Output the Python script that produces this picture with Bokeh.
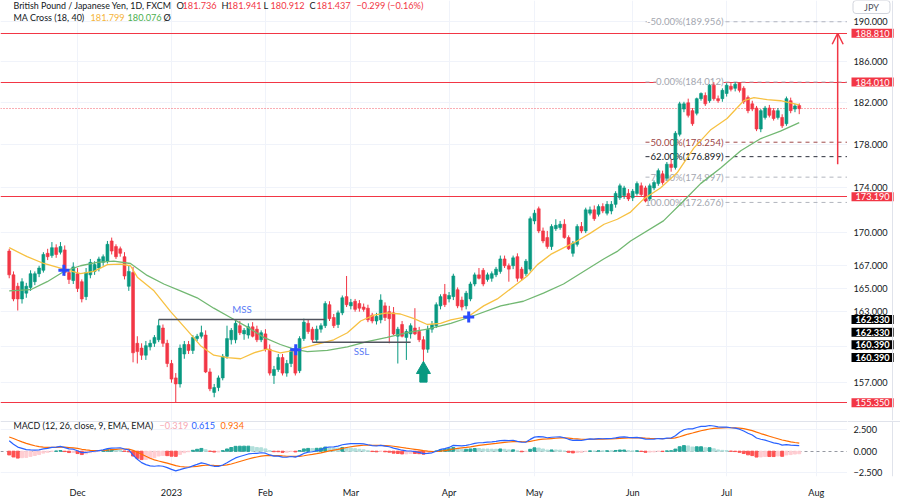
from bokeh.plotting import figure
from bokeh.models import (Range1d, FixedTicker, Label, Arrow, OpenHead, Grid, ColumnDataSource)
from bokeh.layouts import column, row
from bokeh.embed import file_html
from bokeh.resources import INLINE
from bokeh.core.properties import value

# ------------------------------------------------------------------ data
month_ticks = [16, 38, 60, 80, 103, 123, 146, 168, 189]
month_labels = ["Dec", "2023", "Feb", "Mar", "Apr", "May", "Jun", "Jul", "Aug"]

price_ticks = [157, 160, 163, 165, 167, 170, 174, 178, 182, 186, 190]
macd_ticks = [-2.5, 0, 2.5]
macd_tick_labels = ["\u22122.500", "0.000", "2.500"]

# daily bars (open, high, low, close)
bars_nov = [
    (168.3, 168.5, 165.9, 166.2), (166.2, 166.5, 163.9, 164.1), (165.2, 165.5, 163.1, 164.1),
    (164.1, 165.9, 163.7, 165.6), (164.6, 165.5, 164.2, 165.2), (165.1, 166.6, 164.8, 166.3),
    (165.6, 166.5, 165.3, 166.3), (166.3, 167.0, 166.0, 166.8), (166.6, 168.2, 166.4, 168.0),
    (168.1, 168.5, 167.5, 167.8), (167.9, 169.1, 167.7, 168.6), (168.6, 168.9, 167.7, 168.0),
    (168.2, 169.1, 168.0, 168.7), (168.4, 168.8, 166.1, 166.4), (166.4, 166.7, 165.4, 165.8),
    (165.7, 167.3, 165.4, 166.9),
]
bars_dec = [
    (166.3, 166.8, 164.7, 165.0), (165.6, 165.8, 163.8, 164.1), (164.3, 166.8, 164.0, 166.4),
    (166.2, 167.6, 165.9, 167.3), (166.5, 167.4, 166.2, 167.1), (166.8, 167.8, 166.5, 167.6),
    (167.3, 168.0, 167.0, 167.8), (167.4, 169.2, 167.2, 168.9), (169.2, 169.5, 168.0, 168.3),
    (168.7, 168.9, 167.6, 167.8), (168.5, 168.7, 167.8, 168.1), (167.8, 168.2, 165.8, 166.1),
    (165.2, 167.0, 164.8, 166.5), (166.4, 166.9, 158.7, 159.5), (160.3, 160.9, 158.6, 159.6),
    (159.9, 160.3, 158.9, 159.3), (159.3, 160.5, 158.9, 160.1), (160.0, 160.6, 159.7, 160.3),
    (160.3, 161.0, 160.0, 160.8), (160.6, 162.33, 160.4, 161.8), (161.6, 161.9, 160.0, 160.3),
    (160.3, 160.6, 158.3, 158.6),
]
bars_jan = [
    (158.6, 158.9, 157.0, 157.3), (157.4, 157.8, 155.35, 156.9), (156.9, 160.2, 156.6, 159.9),
    (159.4, 160.5, 159.0, 160.2), (160.2, 160.5, 159.4, 159.7), (159.7, 161.0, 159.4, 160.8),
    (160.7, 161.1, 160.5, 160.9), (160.9, 161.8, 160.7, 161.2), (161.0, 161.4, 157.8, 157.9),
    (157.9, 158.2, 156.3, 156.5), (156.2, 156.9, 155.8, 156.6), (156.6, 157.6, 156.3, 157.4),
    (157.4, 159.4, 157.2, 159.2), (159.2, 161.8, 159.0, 160.7), (160.6, 161.6, 160.2, 161.4),
    (160.6, 162.2, 160.3, 162.0), (161.8, 162.2, 161.0, 161.2), (161.1, 161.6, 160.6, 161.4),
    (161.0, 162.0, 160.7, 161.7), (161.7, 162.1, 160.8, 160.9), (161.5, 161.8, 160.4, 160.6),
    (160.6, 161.4, 160.4, 161.2),
]
bars_feb = [
    (161.1, 161.5, 159.6, 159.8), (159.8, 160.2, 157.6, 157.8), (157.6, 158.4, 156.9, 158.1),
    (158.1, 159.4, 157.9, 159.1), (159.1, 159.4, 157.6, 157.8), (157.8, 158.9, 157.5, 158.6),
    (158.6, 159.9, 158.3, 159.7), (159.7, 160.1, 157.6, 157.8), (158.0, 160.9, 157.8, 160.7),
    (160.7, 162.4, 160.5, 162.1), (162.0, 162.33, 161.1, 161.3), (161.5, 161.7, 160.39, 160.6),
    (160.6, 161.8, 160.4, 161.5), (161.5, 162.0, 161.2, 161.8), (161.8, 163.9, 161.6, 163.7),
    (163.6, 163.9, 162.2, 162.4), (162.5, 162.8, 161.6, 161.8), (161.9, 163.1, 161.6, 162.9),
    (162.9, 164.4, 162.7, 164.2), (164.3, 166.1, 163.4, 163.6),
]
bars_mar = [
    (163.5, 164.1, 163.2, 163.8), (163.9, 164.1, 163.0, 163.2), (163.7, 164.0, 163.0, 163.3),
    (163.4, 163.7, 163.0, 163.2), (163.3, 163.6, 162.1, 162.3), (162.7, 162.9, 162.0, 162.2),
    (162.2, 162.9, 161.9, 162.6), (162.3, 164.5, 162.0, 164.0), (163.5, 163.8, 162.2, 162.5),
    (163.0, 163.5, 160.3, 162.4), (162.9, 163.4, 161.0, 161.1), (160.9, 161.7, 158.6, 161.5),
    (161.9, 162.2, 160.8, 160.9), (160.8, 161.5, 158.9, 161.3), (161.1, 162.0, 160.7, 161.8),
    (161.6, 163.3, 161.0, 161.1), (161.3, 161.7, 160.4, 160.6), (160.6, 160.9, 158.5, 159.8),
    (159.8, 161.8, 159.5, 161.5), (161.5, 162.2, 161.2, 161.9), (161.8, 163.8, 161.6, 163.6),
    (163.5, 164.5, 163.2, 164.3), (164.5, 165.4, 163.4, 163.6),
]
bars_apr = [
    (164.1, 164.7, 163.8, 164.4), (164.3, 166.3, 164.0, 166.1), (164.9, 165.1, 163.3, 163.5),
    (164.0, 164.3, 163.1, 163.4), (163.5, 164.8, 163.2, 164.6), (164.1, 165.6, 163.9, 165.4),
    (165.4, 166.4, 165.2, 166.2), (166.2, 166.8, 165.8, 165.9), (166.6, 166.8, 165.2, 165.4),
    (165.8, 166.4, 165.6, 166.2), (165.9, 166.5, 165.6, 166.3), (166.2, 166.9, 166.0, 166.7),
    (166.5, 167.9, 166.3, 167.6), (167.6, 167.9, 166.8, 167.0), (167.0, 167.2, 165.6, 166.7),
    (167.0, 167.9, 166.7, 167.7), (167.8, 168.1, 165.6, 165.9), (166.7, 166.9, 165.7, 165.9),
    (166.3, 167.6, 166.1, 167.4), (166.7, 171.4, 166.5, 171.2),
]
bars_may = [
    (171.0, 172.0, 170.7, 171.7), (172.1, 172.3, 169.9, 170.1), (170.1, 170.4, 169.0, 169.2),
    (169.5, 170.1, 168.5, 168.7), (168.7, 170.7, 168.4, 170.5), (170.3, 171.15, 170.1, 170.6),
    (170.4, 171.0, 170.2, 170.7), (170.7, 171.15, 169.4, 169.5), (169.5, 169.7, 168.4, 168.5),
    (168.1, 169.2, 167.8, 169.0), (168.9, 170.7, 168.7, 170.5), (170.5, 170.9, 169.9, 170.1),
    (170.1, 172.2, 169.9, 172.0), (171.7, 172.3, 171.5, 172.0), (172.0, 172.4, 171.0, 171.2),
    (171.6, 172.5, 171.4, 172.3), (172.3, 172.6, 171.7, 171.9), (171.7, 172.8, 171.5, 172.5),
    (171.9, 172.8, 171.6, 172.5), (172.5, 173.7, 172.2, 173.5), (173.1, 174.4, 172.9, 174.2),
    (173.3, 174.2, 173.0, 174.0), (173.5, 173.9, 172.8, 173.0),
]
bars_jun = [
    (173.1, 173.9, 172.8, 173.7), (173.5, 174.6, 173.3, 174.4), (174.2, 174.5, 173.2, 173.4),
    (174.0, 174.2, 172.68, 172.8), (173.0, 174.4, 172.8, 174.2), (174.0, 174.7, 173.8, 174.5),
    (174.4, 175.8, 174.2, 175.6), (175.3, 175.6, 174.3, 174.5), (174.9, 176.4, 174.7, 176.2),
    (176.2, 176.6, 175.5, 175.9), (175.9, 179.3, 175.7, 179.1), (179.0, 182.1, 178.8, 181.9),
    (181.4, 182.1, 181.1, 181.9), (182.0, 182.4, 180.6, 180.8), (181.25, 181.5, 179.8, 180.0),
    (181.0, 182.5, 180.8, 182.4), (182.4, 183.0, 182.2, 182.9), (182.7, 183.0, 181.7, 181.9),
    (182.2, 183.8, 182.0, 183.7), (183.7, 184.0, 182.2, 182.4), (182.4, 182.7, 182.0, 182.2),
    (182.4, 183.4, 182.1, 183.2),
]
bars_jul = [
    (182.9, 183.9, 182.6, 183.7), (183.6, 183.9, 183.1, 183.3), (183.4, 184.0, 183.1, 183.8),
    (183.9, 184.01, 183.0, 183.2), (183.4, 183.6, 181.9, 182.1), (182.5, 182.7, 181.0, 181.25),
    (181.9, 182.2, 181.2, 181.4), (181.5, 181.7, 179.3, 179.5), (179.5, 181.4, 179.2, 181.25),
    (180.6, 181.7, 180.4, 181.5), (181.5, 181.8, 180.6, 180.8), (181.25, 181.5, 180.3, 180.5),
    (180.6, 181.5, 180.4, 181.25), (180.6, 180.9, 179.6, 179.8), (180.0, 182.6, 179.8, 182.4),
    (182.2, 182.5, 181.0, 181.25), (181.4, 181.9, 181.1, 181.7), (181.736, 181.941, 180.912, 181.437),
]

# moving averages as drawn (bar index, value)
ma18_bar = [0, 4.2, 8.1, 12.8, 16.7, 19.8, 23, 26.1, 28.4, 30, 33.9, 37.8, 41.7, 44.8, 47.9,
            51.1, 54.2, 57.3, 60.4, 63.5, 66.7, 69.8, 72.9, 76, 79.2, 82.3, 85.4, 88.5, 91.6,
            94.8, 97.9, 101, 103.4, 107.6, 111.1, 114.3, 118.2, 121.3, 123.7, 126.8, 129.9,
            133, 136.1, 139.3, 142.4, 145.5, 148.6, 152.5, 156.4, 160.3, 164.2, 168.1, 172,
            174.4, 177.5, 180.6, 185]
ma18_val = [168.6, 167.8, 167.2, 166.7, 166.3, 166.5, 167.1, 167.15, 167.0, 166.0, 164.8,
            163.0, 161.4, 160.1, 159.3, 159.1, 159.0, 159.5, 159.8, 159.5, 159.7, 160.0, 160.3,
            160.6, 161.2, 162.2, 162.7, 162.9, 162.8, 162.4, 161.9, 162.0, 162.3, 162.6, 163.5,
            164.1, 165.2, 166.1, 167.1, 168.0, 168.6, 169.2, 169.9, 170.7, 171.15, 171.8, 173.0,
            174.0, 175.4, 177.7, 179.4, 180.5, 182.2, 182.5, 182.3, 182.2, 181.8]
ma40_bar = [0, 5, 8.9, 12.8, 16.7, 20.6, 24.5, 28.4, 32.3, 36.2, 40.1, 44, 47.9, 51.8, 55.7,
            59.6, 63.5, 66.7, 69.8, 74.5, 79.2, 83.8, 88.5, 93.2, 97.9, 103.4, 107.6, 115.1,
            120.4, 125.1, 129.8, 134.5, 139.2, 142.5, 145.5, 153.2, 157.9, 161.9, 166.6, 171.3,
            176, 180.6, 185]
ma40_val = [164.8, 164.9, 165.6, 166.5, 167.0, 167.3, 167.4, 167.2, 166.15, 165.4, 164.8,
            164.2, 163.3, 162.5, 161.7, 160.8, 160.2, 159.8, 159.6, 159.7, 160.0, 160.45, 160.8,
            161.2, 161.5, 162.0, 162.5, 163.5, 163.9, 164.6, 165.4, 166.5, 167.6, 168.3, 169.2,
            171.0, 172.8, 174.4, 175.85, 177.45, 178.6, 179.3, 180.1]
cross_bar = [12.8, 67.1, 107.6]
cross_val = [166.6, 159.75, 162.55]

legend_ma_values = ["181.799", "180.076"]
legend_macd_values = ["\u22120.319", "0.615", "0.934"]
legend_change = "\u22120.299 (\u22120.16%)"

key_levels = [188.81, 184.01, 173.19, 155.35]
key_level_labels = ["188.810", "184.010", "173.190", "155.350"]

fib_start_bar = 149
fib_levels = [189.956, 184.012, 178.254, 176.899, 174.997, 172.676]
fib_names = ["-50.00%", "0.00%", "50.00%", "62.00%", "79.00%", "100.00%"]

mss_level, mss_start, mss_end = 162.33, 35, 74
ssl_level, ssl_start, ssl_end = 160.39, 71, 94

up_arrow_bar = 97
up_arrow_head = 158.1
up_arrow_stem = (157.85, 157.05)

target_bar, target_from, target_to = 194, 176.2, 188.81

macd_seed_fast, macd_seed_slow, macd_seed_signal = 168.4, 166.9, 1.75

# ------------------------------------------------------------------ derived
bars = bars_nov + bars_dec + bars_jan + bars_feb + bars_mar + bars_apr + bars_may + bars_jun + bars_jul
idx = list(range(len(bars)))
opens = [b[0] for b in bars]
highs = [b[1] for b in bars]
lows = [b[2] for b in bars]
closes = [b[3] for b in bars]

UP, DOWN = "#089981", "#f23645"
FONT = "Lato"
TXT = "#131722"
GRID = "#f0f3fa"
EDGE = "#e0e3eb"
PANEL_W, AXIS_W = 847, 53
MAIN_H, MACD_H, TIME_H = 420, 80, 19

src = ColumnDataSource(dict(
    i=idx, h=highs, l=lows,
    top=[max(o, c) for o, c in zip(opens, closes)],
    bot=[min(o, c) for o, c in zip(opens, closes)],
    col=[UP if c >= o else DOWN for o, c in zip(opens, closes)],
))

# MACD (12, 26, 9) from closes
a12, a26, a9 = 2 / 13, 2 / 27, 2 / 10
e12, e26, sg = macd_seed_fast, macd_seed_slow, macd_seed_signal
macd, signal, hist = [], [], []
for c in closes:
    e12 += a12 * (c - e12)
    e26 += a26 * (c - e26)
    m = e12 - e26
    sg += a9 * (m - sg)
    macd.append(m)
    signal.append(sg)
    hist.append(m - sg)
hist_col = []
prev = macd_seed_fast - macd_seed_slow - macd_seed_signal
for h in hist:
    if h >= 0:
        hist_col.append("#26a69a" if h >= prev else "#b2dfdb")
    else:
        hist_col.append("#ffcdd2" if h >= prev else "#ff5252")
    prev = h


def bare(fig):
    fig.outline_line_color = None
    fig.background_fill_color = "white"
    fig.border_fill_color = "white"
    fig.xgrid.visible = False
    fig.ygrid.visible = False


def legend_row(fig, y, items):
    for xx, t, col, size in items:
        fig.add_layout(Label(x=xx, y=y, x_units="screen", y_units="screen", text=t,
                             text_color=col, text_font=FONT, text_font_size=size,
                             text_baseline="middle"))


# ------------------------------------------------------------------ main pane
x_range = Range1d(-2.04, 196.3)
y_main = Range1d(153.9, 192.1)
p = figure(width=PANEL_W, height=MAIN_H, x_range=x_range, y_range=y_main,
           y_axis_type="log", x_axis_location=None, y_axis_location=None,
           toolbar_location=None, output_backend="svg", min_border=0)
bare(p)
p.add_layout(Grid(dimension=0, ticker=FixedTicker(ticks=month_ticks), grid_line_color=GRID))
p.add_layout(Grid(dimension=1, ticker=FixedTicker(ticks=price_ticks), grid_line_color=GRID))

# key horizontal levels
p.hspan(y=key_levels, line_color=DOWN, line_width=1.2)

# fibonacci retracement
fib_line_cols = ["#b2b5be", "#b2b5be", "#a04a4a", "#2a2e39", "#b2b5be", "#b2b5be"]
fib_txt_cols = ["#a3a6af", "#a3a6af", "#9c4646", "#131722", "#a3a6af", "#a3a6af"]
p.segment(x0=[fib_start_bar] * len(fib_levels), y0=fib_levels,
          x1=[x_range.end] * len(fib_levels), y1=fib_levels,
          line_color=fib_line_cols, line_width=1, line_dash="4 4")
p.text(x=[fib_start_bar] * len(fib_levels), y=fib_levels,
       text=[f"{n}({v:.3f})" for n, v in zip(fib_names, fib_levels)],
       x_offset=78, text_align="right", text_baseline="middle",
       text_color=fib_txt_cols, text_font=value(FONT), text_font_size="9.6px",
       background_fill_color="white")

# last price line
p.hspan(y=[closes[-1]], line_color=DOWN, line_width=1, line_dash="1 2", line_alpha=0.8)

# candles
p.segment(x0="i", y0="h", x1="i", y1="l", line_color="col", line_width=1, source=src)
p.vbar(x="i", top="top", bottom="bot", width=0.68, fill_color="col", line_color="col",
       line_width=0.6, source=src)

# moving averages
p.line(ma40_bar, ma40_val, line_color="#72b872", line_width=1.3)
p.line(ma18_bar, ma18_val, line_color="#f7c142", line_width=1.3)
p.scatter(cross_bar, cross_val, marker="cross", size=11, line_width=3, line_color="#2a4bff")

# MSS / SSL structure lines
p.segment(x0=[mss_start, ssl_start], y0=[mss_level, ssl_level],
          x1=[mss_end, ssl_end], y1=[mss_level, ssl_level],
          line_color="#50535e", line_width=1.6)
p.text(x=[(mss_start + mss_end) / 2], y=[mss_level], text=["MSS"], text_align="center",
       text_baseline="bottom", y_offset=-4, text_color="#5b7cf5",
       text_font=value(FONT), text_font_size="9.7px")
p.text(x=[(ssl_start + ssl_end) / 2], y=[ssl_level], text=["SSL"], text_align="center",
       text_baseline="top", y_offset=3, text_color="#5b7cf5",
       text_font=value(FONT), text_font_size="9.7px")

# green up arrow
p.vbar(x=[up_arrow_bar], top=[up_arrow_stem[0]], bottom=[up_arrow_stem[1]], width=1.7,
       color=UP)
p.scatter([up_arrow_bar], [up_arrow_head], marker="triangle", size=14, color=UP)

# red target arrow
p.add_layout(Arrow(end=OpenHead(size=11, line_color=DOWN, line_width=1.5),
                   x_start=target_bar, y_start=target_from, x_end=target_bar, y_end=target_to,
                   line_color=DOWN, line_width=1.5))

# legend texts
o, h, l, c = bars[-1]
S = "9.2px"
legend_row(p, MAIN_H - 4.5, [
    (13, "British Pound / Japanese Yen, 1D, FXCM", TXT, "8.9px"),
    (176, "O", TXT, S), (182, f"{o:.3f}", DOWN, S),
    (221, "H", TXT, S), (227, f"{h:.3f}", DOWN, S),
    (263, "L", TXT, S), (270, f"{l:.3f}", DOWN, S),
    (309, "C", TXT, S), (316, f"{c:.3f}", DOWN, S),
    (356, legend_change, DOWN, S),
])
legend_row(p, MAIN_H - 16.5, [
    (13, "MA Cross (18, 40)", TXT, "9px"), (90, legend_ma_values[0], "#f5b43a", S),
    (127, legend_ma_values[1], "#4caf50", S), (163, "\u00d8", TXT, S),
])

# ------------------------------------------------------------------ price scale panel
pa = figure(width=AXIS_W, height=MAIN_H, x_range=Range1d(0, AXIS_W), y_range=y_main,
            y_axis_type="log", x_axis_location=None, y_axis_location=None,
            toolbar_location=None, output_backend="svg", min_border=0)
bare(pa)
pa.text(x=[6] * len(price_ticks), y=price_ticks, text=[f"{t:.3f}" for t in price_ticks],
        text_baseline="middle", text_align="left", text_color=TXT,
        text_font=value(FONT), text_font_size="9.2px")
pa.text(x=[4] * len(key_levels), y=key_levels, text=key_level_labels,
        text_baseline="middle", text_align="left", text_color="white",
        text_font=value(FONT), text_font_size="9.2px",
        background_fill_color=DOWN, padding=(4, 1))
pa.text(x=[4] * 4, y=[mss_level, mss_level, ssl_level, ssl_level], y_offset=[0, 12.7, 2.6, 15.2],
        text=[f"{v:.3f}" for v in (mss_level, mss_level, ssl_level, ssl_level)],
        text_baseline="middle", text_align="left", text_color="white",
        text_font=value(FONT), text_font_size="9.2px", text_font_style="bold",
        background_fill_color="black", padding=(4, 1))
pa.text(x=[24], y=[y_main.end], y_offset=6.5, text=["JPY"], text_align="center",
        text_baseline="middle", text_color="#50535e", text_font=value(FONT),
        text_font_size="9.2px", background_fill_color="white",
        border_line_color="#d1d4dc", border_radius=3, padding=(11, 1))
pa.vspan(x=[45], line_color=EDGE, line_width=1)

# ------------------------------------------------------------------ MACD pane
y_macd = Range1d(-2.93, 3.56)
p2 = figure(width=PANEL_W, height=MACD_H, x_range=x_range, y_range=y_macd,
            y_axis_location=None, x_axis_location="below",
            toolbar_location=None, output_backend="svg",
            min_border=0, min_border_bottom=TIME_H)
bare(p2)
p2.add_layout(Grid(dimension=0, ticker=FixedTicker(ticks=month_ticks), grid_line_color=GRID))
p2.add_layout(Grid(dimension=1, ticker=FixedTicker(ticks=[-2.5, 2.5]), grid_line_color=GRID))
xa = p2.xaxis[0]
xa.ticker = FixedTicker(ticks=month_ticks)
xa.major_label_overrides = {t: lab for t, lab in zip(month_ticks, month_labels)}
xa.axis_line_color = None
xa.major_tick_line_color = None
xa.minor_tick_line_color = None
xa.major_label_text_font = FONT
xa.major_label_text_font_size = "9.2px"
xa.major_label_text_color = TXT
xa.major_label_standoff = 4

p2.hspan(y=[y_macd.end - 0.06], line_color=EDGE, line_width=1)
p2.hspan(y=[0], line_color="#9598a1", line_width=1, line_dash="3 3")
p2.vbar(x=idx, top=hist, bottom=0, width=0.7, color=hist_col)
p2.line(idx, signal, line_color="#ff6d00", line_width=1.2)
p2.line(idx, macd, line_color="#2962ff", line_width=1.2)

legend_row(p2, MACD_H - TIME_H - 10, [
    (13, "MACD (12, 26, close, 9, EMA, EMA)", TXT, "8.9px"),
    (159, legend_macd_values[0], "#f7a9b4", S), (191, legend_macd_values[1], "#2962ff", S),
    (220, legend_macd_values[2], "#ff6d00", S),
])

pb = figure(width=AXIS_W, height=MACD_H, x_range=Range1d(0, AXIS_W), y_range=y_macd,
            x_axis_location=None, y_axis_location=None, toolbar_location=None,
            output_backend="svg", min_border=0, min_border_bottom=TIME_H)
bare(pb)
pb.text(x=[6] * len(macd_ticks), y=macd_ticks, text=macd_tick_labels,
        text_baseline="middle", text_align="left", text_color=TXT,
        text_font=value(FONT), text_font_size="9.2px")
pb.hspan(y=[y_macd.end - 0.06], line_color=EDGE, line_width=1)
pb.vspan(x=[45], line_color=EDGE, line_width=1)

layout = column(row(p, pa), row(p2, pb))
open("out.html", "w").write(file_html(layout, INLINE))
